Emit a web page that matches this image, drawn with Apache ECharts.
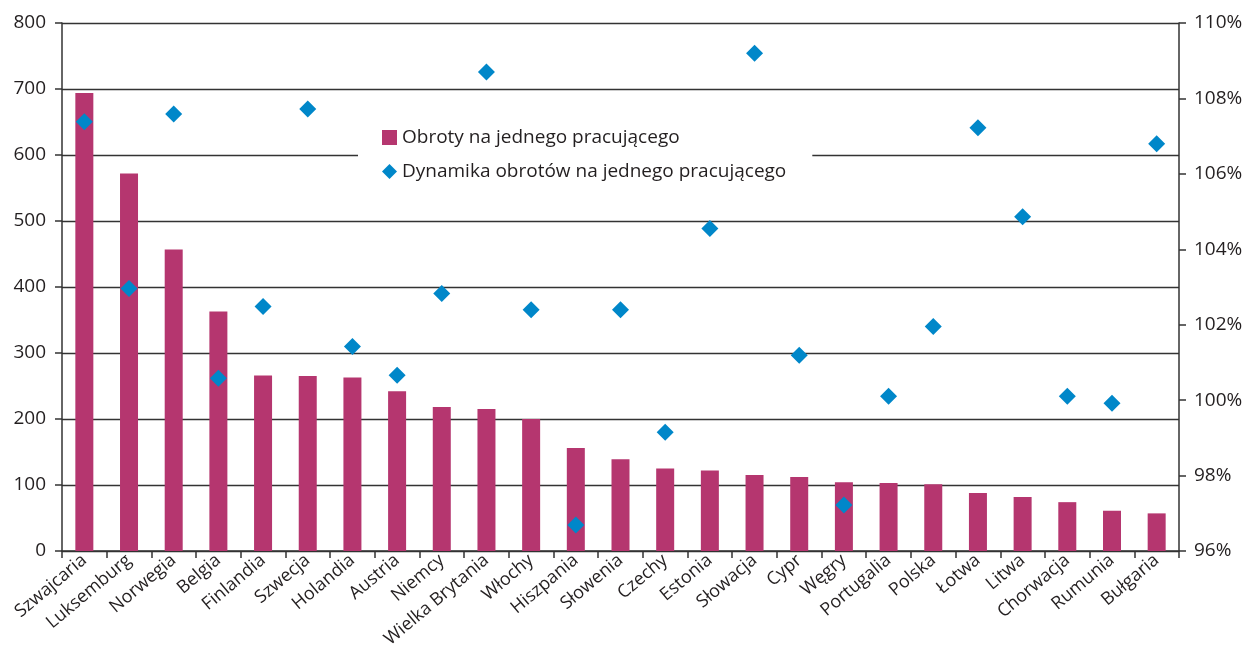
<!DOCTYPE html>
<html>
<head>
<meta charset="utf-8">
<script src="https://cdn.jsdelivr.net/npm/echarts@6/dist/echarts.min.js"></script>
<style>
    html, body { margin: 0; padding: 0; background: #fff; }
    #chart { width: 1246px; height: 655px; }
</style>
</head>
<body>
<div id="chart"></div>
<script>
var countries = ['Szwajcaria', 'Luksemburg', 'Norwegia', 'Belgia', 'Finlandia', 'Szwecja', 'Holandia', 'Austria',
    'Niemcy', 'Wielka Brytania', 'Włochy', 'Hiszpania', 'Słowenia', 'Czechy', 'Estonia', 'Słowacja', 'Cypr',
    'Węgry', 'Portugalia', 'Polska', 'Łotwa', 'Litwa', 'Chorwacja', 'Rumunia', 'Bułgaria'];

// obroty na jednego pracujacego (lewa os)
var obroty = [694, 572, 457, 363, 266, 265, 263, 242, 218, 215, 200, 156, 139, 125, 122, 115, 112,
    104, 103, 101, 88, 82, 74, 61, 57];

// dynamika w % (prawa os)
var dynamika = [107.38, 102.96, 107.59, 100.58, 102.48, 107.72, 101.42, 100.66, 102.83, 108.70, 102.40, 96.69,
    102.40, 99.15, 104.55, 109.20, 101.19, 97.22, 100.10, 101.95, 107.22, 104.86, 100.10, 99.92, 106.80];

var leftTicks = { min: 0, max: 800, interval: 100 };
var rightTicks = { min: 96, max: 110, interval: 2 };

var font = '"Open Sans", "DejaVu Sans", sans-serif';
var axisColor = '#333';
var textColor = '#231f20';

var option = {
    animation: false,
    backgroundColor: '#fff',
    textStyle: { fontFamily: font },
    grid: { left: 62, right: 67, top: 23, bottom: 104 },
    legend: {
        orient: 'vertical',
        left: 358,
        top: 120,
        backgroundColor: '#fff',
        padding: [8, 26, 8, 24],
        itemGap: 15,
        itemWidth: 15,
        itemHeight: 15,
        textStyle: { fontSize: 19, color: textColor, fontFamily: font },
        data: [
            { name: 'Obroty na jednego pracującego', icon: 'rect' },
            { name: 'Dynamika obrotów na jednego pracującego', icon: 'diamond' }
        ]
    },
    xAxis: {
        type: 'category',
        data: countries,
        axisLine: { lineStyle: { color: axisColor, width: 1.5 } },
        axisTick: { show: true, length: 7, lineStyle: { color: axisColor, width: 1.5 } },
        axisLabel: {
            rotate: 40,
            interval: 0,
            fontSize: 18,
            color: textColor,
            margin: 7
        }
    },
    yAxis: [
        {
            type: 'value',
            min: leftTicks.min,
            max: leftTicks.max,
            interval: leftTicks.interval,
            axisLine: { show: true, lineStyle: { color: axisColor, width: 1.5 } },
            axisTick: { show: true, length: 7, lineStyle: { color: axisColor, width: 1.5 } },
            axisLabel: { fontSize: 19, color: textColor, margin: 16 },
            splitLine: { lineStyle: { color: axisColor, width: 1.3 } }
        },
        {
            type: 'value',
            min: rightTicks.min,
            max: rightTicks.max,
            interval: rightTicks.interval,
            position: 'right',
            axisLine: { show: true, lineStyle: { color: axisColor, width: 1.5 } },
            axisTick: { show: true, length: 7, lineStyle: { color: axisColor, width: 1.5 } },
            axisLabel: { fontSize: 19, color: textColor, margin: 15, formatter: '{value}%' },
            splitLine: { show: false }
        }
    ],
    series: [
        {
            name: 'Obroty na jednego pracującego',
            type: 'bar',
            data: obroty,
            barWidth: 18,
            itemStyle: { color: '#b5366f' },
            z: 2
        },
        {
            name: 'Dynamika obrotów na jednego pracującego',
            type: 'scatter',
            yAxisIndex: 1,
            data: dynamika,
            symbol: 'diamond',
            symbolSize: 17,
            itemStyle: { color: '#0087c9', opacity: 1 },
            z: 3
        }
    ]
};

var chart = echarts.init(document.getElementById('chart'));
chart.setOption(option);
window.addEventListener('resize', function () {
    chart.resize();
});
</script>
</body>
</html>
